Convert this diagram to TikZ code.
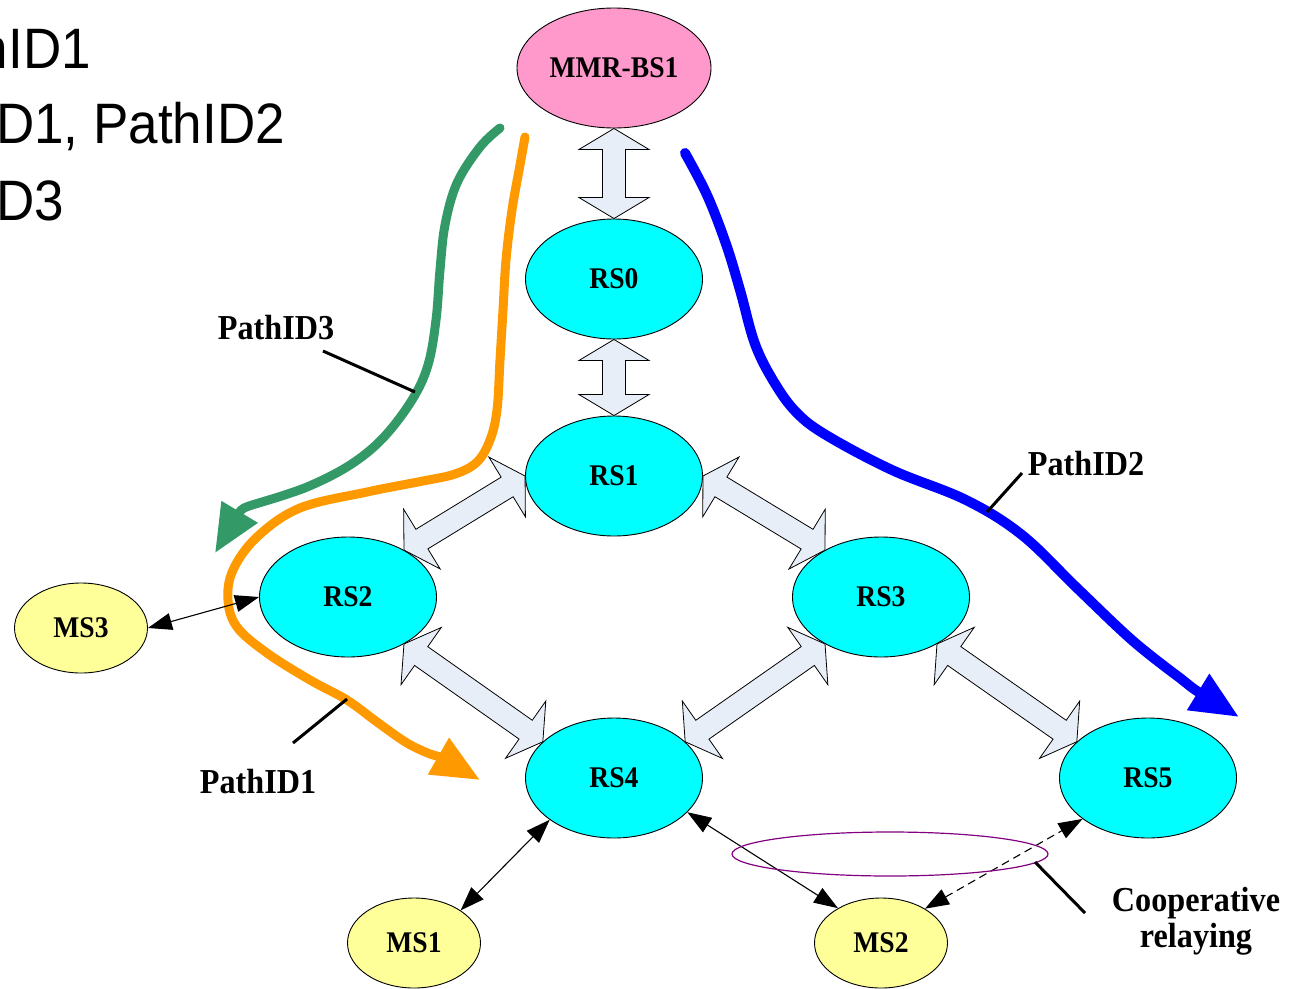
\documentclass[tikz,border=0pt]{standalone}
\usepackage{fontspec}
\setmainfont{Liberation Serif}
\newfontfamily\labelfont[FakeStretch=0.92]{Liberation Serif}
\newfontfamily\listfont[FakeStretch=0.93]{Liberation Sans}
\usetikzlibrary{shapes.geometric,arrows.meta,calc}

\definecolor{bspink}{HTML}{FF99CC}
\definecolor{rscyan}{HTML}{00FFFF}
\definecolor{msyellow}{HTML}{FFFF99}
\definecolor{linkfill}{HTML}{E8EEF8}
\definecolor{pathgreen}{HTML}{339966}
\definecolor{pathorange}{HTML}{FF9900}
\definecolor{pathblue}{HTML}{0000FF}
\definecolor{coopviolet}{HTML}{800080}

% geometry of the wide double-headed link arrows
\newcommand\blkhl{21pt}
\newcommand\blkhw{35pt}
\newcommand\blksw{11.5pt}
\newcommand\linkarrow[2]{%
  \draw[linkstyle] (#1)
    -- ($(#1)!\blkhl!(#2)!\blkhw!90:(#2)$)
    -- ($(#1)!\blkhl!(#2)!\blksw!90:(#2)$)
    -- ($(#2)!\blkhl!(#1)!\blksw!-90:(#1)$)
    -- ($(#2)!\blkhl!(#1)!\blkhw!-90:(#1)$)
    -- (#2)
    -- ($(#2)!\blkhl!(#1)!\blkhw!90:(#1)$)
    -- ($(#2)!\blkhl!(#1)!\blksw!90:(#1)$)
    -- ($(#1)!\blkhl!(#2)!\blksw!-90:(#2)$)
    -- ($(#1)!\blkhl!(#2)!\blkhw!-90:(#2)$)
    -- cycle;}

\tikzset{
  station/.style={ellipse, draw=black, line width=0.9pt, inner sep=0pt,
    font=\labelfont\bfseries\fontsize{30}{30}\selectfont},
  basestation/.style={station, fill=bspink, minimum width=194pt, minimum height=120pt},
  relay/.style={station, fill=rscyan, minimum width=177pt, minimum height=120pt},
  mobile/.style={station, fill=msyellow, minimum width=133pt, minimum height=90pt},
  linkstyle/.style={draw=black, line width=0.8pt, fill=linkfill, line join=miter},
  access/.style={line width=1.1pt, {Triangle[length=24pt,width=17pt]}-{Triangle[length=24pt,width=17pt]}},
  route/.style={line width=9pt, line cap=round, -{Triangle[length=48pt,width=40pt]}},
  leader/.style={line width=3pt},
  pathlabel/.style={inner sep=0pt, anchor=base, font=\labelfont\bfseries\fontsize{35}{35}\selectfont},
  listline/.style={inner sep=0pt, font=\listfont\fontsize{57}{57}\selectfont}
}

\begin{document}
\begin{tikzpicture}[x=1pt,y=-1pt]
\useasboundingbox (0,0) rectangle (1290,988);

% path list (partly off the left edge)
\node[listline, anchor=base east] (list1) at (91,68) {hID1};
\node[listline, anchor=base west] (list2) at (-4,143) {D1, PathID2};
\node[listline, anchor=base west] (list3) at (-4,220) {D3};

% routes
\draw[route, draw=pathgreen]
  plot[smooth, tension=0.6] coordinates {(500,128) (480,147) (457,183) (445,225) (440,270)
    (436,320) (428,365) (412,400) (383,438) (350,465) (307,487) (262,502)}
  .. controls (242,508) .. (215,553);
\draw[route, draw=pathorange]
  plot[smooth, tension=0.6] coordinates {(525,137) (520,165) (512,210) (506,260) (503,310)
    (500,360) (497,410) (490,440) (477,462) (455,474) (423,481) (367,492) (300,508)
    (257,537) (233,570) (228,600) (237,627) (267,653) (310,680) (347,700) (377,722)
    (407,743) (430,754)}
  .. controls (440,757) .. (480,780);
\draw[route, line width=10pt, draw=pathblue]
  plot[smooth, tension=0.6] coordinates {(685,153) (707,195) (726,244) (740,290) (755,344)
    (774,382) (796,412) (826,435) (892,470) (966,500) (1022,535) (1077,588) (1133,641)
    (1180,678)}
  .. controls (1195,690) .. (1239,717);

% stations
\node[basestation] (bs)  at (614,68)  {MMR-BS1};
\node[relay]       (rs0) at (614,279) {RS0};
\node[relay]       (rs1) at (614,476) {RS1};
\node[relay]       (rs2) at (348,597) {RS2};
\node[relay]       (rs3) at (881,597) {RS3};
\node[relay]       (rs4) at (614,778) {RS4};
\node[relay]       (rs5) at (1148,778) {RS5};
\node[mobile]      (ms3) at (81,628)  {MS3};
\node[mobile]      (ms1) at (414,943) {MS1};
\node[mobile]      (ms2) at (881,943) {MS2};

% relay links
\linkarrow{bs.south}{rs0.north}
\linkarrow{rs0.south}{rs1.north}
\linkarrow{rs1.180}{rs2.40}
\linkarrow{rs1.0}{rs3.140}
\linkarrow{rs2.-40}{rs4.153}
\linkarrow{rs3.220}{rs4.27}
\linkarrow{rs3.-40}{rs5.153}

% access links
\draw[access] (ms3.east) -- (rs2.west);
\draw[access] (ms1.35) -- (rs4.213);
\draw[access] (rs4.-25) -- (ms2.141);
\draw[access, dash pattern=on 8pt off 5pt] (ms2.38) -- (rs5.212);

% cooperative relaying zone
\node[ellipse, draw=coopviolet, line width=1.2pt, minimum width=316pt, minimum height=44pt,
  inner sep=0pt] (coop) at (890,854) {};

% labels and leaders
\node[pathlabel] (lab3) at (276,339) {PathID3};
\node[pathlabel] (lab2) at (1086,475) {PathID2};
\node[pathlabel] (lab1) at (258,793) {PathID1};
\node[pathlabel] (coopa) at (1196,911) {Cooperative};
\node[pathlabel] (coopb) at (1196,947) {relaying};

\coordinate (l3a) at (323,351);  \coordinate (l3b) at (415,392);
\coordinate (l2a) at (1022,473); \coordinate (l2b) at (987,512);
\coordinate (l1a) at (293,743);  \coordinate (l1b) at (347,699);
\coordinate (lca) at (1085,913); \coordinate (lcb) at (1035,862);
\draw[leader] (l3a) -- (l3b);
\draw[leader] (l2a) -- (l2b);
\draw[leader] (l1a) -- (l1b);
\draw[leader] (lca) -- (lcb);
\end{tikzpicture}
\end{document}
